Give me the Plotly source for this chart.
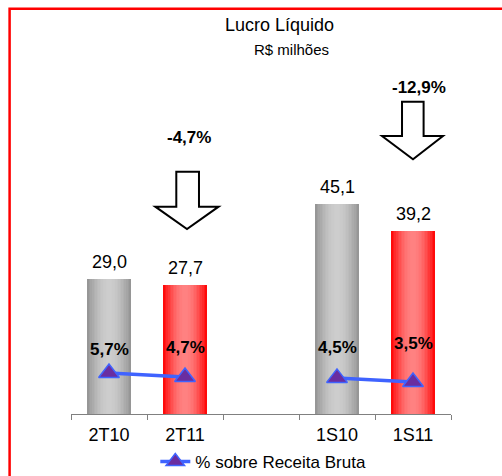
import plotly.graph_objects as go

# Net income (R$ millions) and margin over gross revenue
periods = ["2T10", "2T11", " ", "1S10", "1S11"]
lucro = [29.0, 27.7, None, 45.1, 39.2]
lucro_txt = ["29,0", "27,7", "", "45,1", "39,2"]
margem = [5.7, 4.7, None, 4.5, 3.5]
margem_txt = ["5,7%", "4,7%", "", "4,5%", "3,5%"]
margem_shift = [23, 30, 0, 30, 38]
variacoes = ["-4,7%", "-12,9%"]

W, H = 502, 476
L, R, T, B = 70.7, 450.7, 134, 414  # plot area in pixels
FONT = "Liberation Sans, Arial, sans-serif"


def px(x):
    return (x - L) / (R - L)


def py(y):
    return (B - y) / (B - T)


def mix(c1, c2, t):
    return "rgb(%d,%d,%d)" % tuple(round(a + (b - a) * t) for a, b in zip(c1, c2))


GRAY_EDGE, GRAY_MID = (150, 150, 150), (205, 205, 205)
RED_EDGE, RED_MID = (255, 10, 10), (255, 130, 130)
is_gray = [True, False, True, True, False]

fig = go.Figure()

# Cylinder-like shading: stacked bars of shrinking width, lighter towards the middle
N = 14
BAR_W = 0.57
for k in range(N):
    t = k / N
    shade = 1 - (1 - t) ** 2
    cols = [mix(GRAY_EDGE, GRAY_MID, shade) if g else mix(RED_EDGE, RED_MID, shade) for g in is_gray]
    fig.add_trace(go.Bar(
        x=periods, y=lucro, width=BAR_W * (1 - t),
        marker=dict(color=cols, line=dict(width=0)),
        showlegend=False, hoverinfo="skip",
    ))

fig.add_trace(go.Scatter(
    x=periods, y=margem, yaxis="y2", mode="lines+markers",
    name="% sobre Receita Bruta",
    line=dict(color="#3f63ff", width=3.5),
    marker=dict(symbol="triangle-up", size=18, color="#6a2da0",
                line=dict(color="#3f63ff", width=1.5)),
    connectgaps=False,
))


def label(**kw):
    base = dict(showarrow=False, xanchor="center", yanchor="middle")
    base.update(kw)
    return base


ann = []
for p, v, s in zip(periods, lucro, lucro_txt):
    if v is None:
        continue
    ann.append(label(x=p, y=v, xref="x", yref="y", text=s, yanchor="bottom", yshift=5,
                     font=dict(size=18, color="black", family=FONT)))
for p, v, s, sh in zip(periods, margem, margem_txt, margem_shift):
    if v is None:
        continue
    ann.append(label(x=p, y=v, xref="x", yref="y2", text="<b>%s</b>" % s, yshift=sh,
                     font=dict(size=17, color="black", family=FONT)))

# Titles and variation labels
ann.append(label(x=px(279), y=py(25), xref="paper", yref="paper", text="Lucro Líquido",
                 font=dict(size=18, color="black", family=FONT)))
ann.append(label(x=px(291), y=py(50), xref="paper", yref="paper", text="R$ milhões",
                 font=dict(size=15, color="black", family=FONT)))
ann.append(label(x=px(189), y=py(137), xref="paper", yref="paper", text="<b>%s</b>" % variacoes[0],
                 font=dict(size=17, color="black", family=FONT)))
ann.append(label(x=px(419), y=py(88), xref="paper", yref="paper", text="<b>%s</b>" % variacoes[1],
                 font=dict(size=17, color="black", family=FONT)))


def down_arrow(x0, x1, top, hx0, hx1, hy, tipx, tipy):
    pts = [(x0, top), (x1, top), (x1, hy), (hx1, hy), (tipx, tipy), (hx0, hy), (x0, hy)]
    path = "M " + " L ".join("%.4f %.4f" % (px(a), py(b)) for a, b in pts) + " Z"
    return dict(type="path", xref="paper", yref="paper", path=path,
                line=dict(color="black", width=2), fillcolor="white")


shapes = [
    down_arrow(176, 198.7, 171.7, 155, 218.3, 206.7, 186.7, 229),
    down_arrow(401.7, 423.3, 101.7, 381.7, 442.7, 136, 412.7, 159.3),
    dict(type="rect", xref="paper", yref="paper",
         x0=px(9.3), y0=py(8.7), x1=px(520), y1=py(500),
         line=dict(color="#ff0000", width=2.5), fillcolor="rgba(0,0,0,0)"),
]

# Secondary axis: 0% sits at pixel 396.3, 4.09 px per percentage point
y2_lo = (396.3 - B) / 4.09
y2_hi = (396.3 - T) / 4.09

fig.update_layout(
    width=W, height=H,
    margin=dict(l=L, r=W - R, t=T, b=H - B, pad=0, autoexpand=False),
    paper_bgcolor="white", plot_bgcolor="white",
    barmode="overlay", bargap=0,
    font=dict(family=FONT, color="black"),
    xaxis=dict(type="category", showline=True, linecolor="#808080", linewidth=1.3,
               ticks="outside", tickson="boundaries", ticklen=5, tickcolor="#808080",
               ticklabelstandoff=4,
               tickfont=dict(size=18, color="black", family=FONT), showgrid=False,
               zeroline=False, fixedrange=True, automargin=False),
    yaxis=dict(range=[0, 60], visible=False, showgrid=False, zeroline=False, automargin=False),
    yaxis2=dict(range=[y2_lo, y2_hi], overlaying="y", visible=False,
                showgrid=False, zeroline=False, automargin=False),
    showlegend=True,
    legend=dict(orientation="h", x=px(263), y=py(462), xanchor="center", yanchor="middle",
                font=dict(size=17, color="black", family=FONT), bgcolor="rgba(0,0,0,0)"),
    annotations=ann, shapes=shapes,
)

fig.write_html("out.html")
